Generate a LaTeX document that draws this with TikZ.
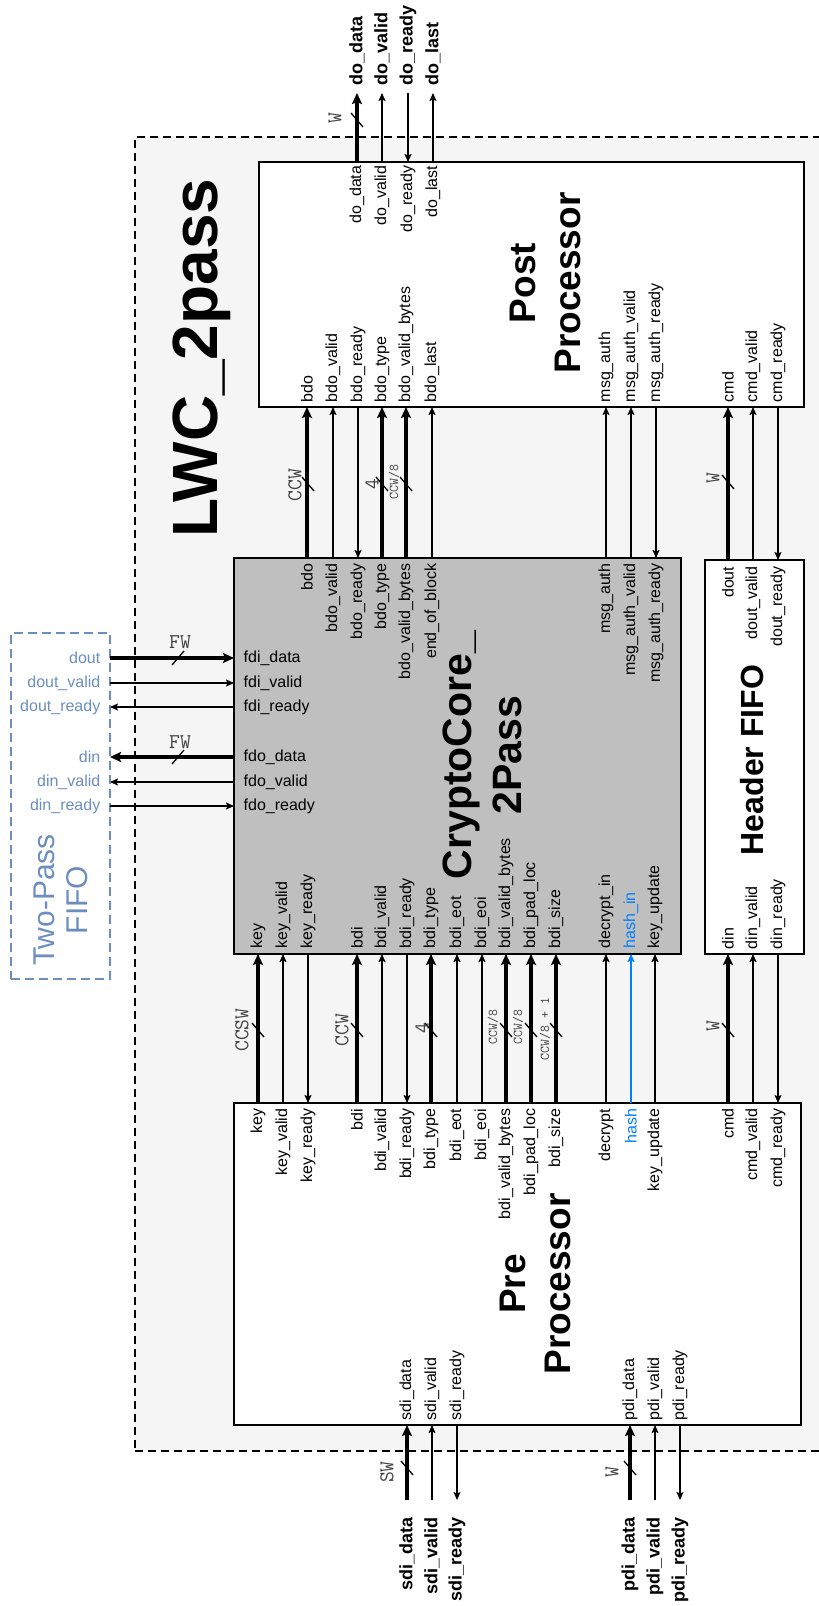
\documentclass[tikz,border=0pt]{standalone}
\usepackage{fontspec}
\setmainfont{Liberation Sans}
\usetikzlibrary{positioning,arrows.meta}
\definecolor{fifoblue}{RGB}{108,142,191}
\definecolor{hashblue}{RGB}{0,127,255}
\definecolor{coregray}{RGB}{191,191,191}
\definecolor{lwcgray}{RGB}{245,245,245}

\begin{document}
\begin{tikzpicture}[x=1pt,y=-1pt]
  \tikzstyle{box}=[draw,line width=2pt,anchor=north west,inner sep=0pt,outer sep=0pt]
  \tikzstyle{title}=[font=\bfseries\fontsize{37}{45}\selectfont,rotate=90,align=center]
  \tikzstyle{port}=[font=\fontsize{16}{19}\selectfont,inner sep=1.5pt]
  \tikzstyle{ptop}=[port,rotate=90,anchor=east]
  \tikzstyle{pbot}=[port,rotate=90,anchor=west]
  \tikzstyle{ext}=[font=\bfseries\fontsize{18}{21}\selectfont,rotate=90,inner sep=0pt]
  \tikzstyle{wtext}=[font=\ttfamily\fontsize{21}{23}\selectfont,text=black!75,inner sep=0pt]
  \tikzstyle{wlab}=[wtext,rotate=90]
  \tikzstyle{wsmall}=[wlab,font=\ttfamily\fontsize{13.5}{15}\selectfont]
  \tikzstyle{wire}=[line width=1.3pt,-{Stealth[length=8pt,width=7pt,inset=1.5pt]}]
  \tikzstyle{rev}=[line width=1.3pt,{Stealth[length=8pt,width=7pt,inset=1.5pt]}-]
  \tikzstyle{bus}=[line width=4pt,-{Stealth[length=11pt,width=10pt,inset=2pt]}]
  \tikzstyle{busrev}=[line width=4pt,{Stealth[length=11pt,width=10pt,inset=2pt]}-]
  \tikzstyle{slash}=[line width=1.3pt]
  \useasboundingbox (0,0) rectangle (819,1606);

  % blocks
  \node[box,dash pattern=on 8pt off 5pt,fill=lwcgray,minimum width=700pt,minimum height=1314pt] (lwc) at (135,137) {};
  \node[box,fill=white,minimum width=545pt,minimum height=245pt] (post) at (259,162) {};
  \node[box,fill=coregray,minimum width=447pt,minimum height=396pt] (core) at (234,558) {};
  \node[box,fill=white,minimum width=99pt,minimum height=394pt] (hfifo) at (705,560) {};
  \node[box,fill=white,minimum width=567pt,minimum height=322pt] (pre) at (234,1103) {};
  \node[box,draw=fifoblue,dash pattern=on 9pt off 5pt,minimum width=99pt,minimum height=346pt] (tpf) at (11,633) {};

  \node[title,font=\bfseries\fontsize{64}{70}\selectfont,anchor=base west,inner sep=0pt] (lwct) at (217,538) {LWC\_2pass};
  \node[title] (postt) at (545,283) {Post\\Processor};
  \node[title] (pret) at (535,1284) {Pre\\Processor};
  \node[title,font=\bfseries\fontsize{41}{50}\selectfont] (coret) at (482,755) {CryptoCore\_\\2Pass};
  \node[title,font=\bfseries\fontsize{32}{38}\selectfont] (hfifot) at (752,760) {Header FIFO};
  \node[title,font=\fontsize{30}{33}\selectfont,text=fifoblue] (tpft) at (61,900) {Two-Pass\\FIFO};

  % post processor outputs
  \foreach \x/\n/\s in {357/data/bus,382/valid/wire,408/ready/rev,433/last/wire}{
    \node[ptop] (pdo\n) at (\x,164) {do\_\n};
    \coordinate (edo\n) at (\x,93);
    \node[ext,anchor=west] (xdo\n) at (\x,86) {do\_\n};
    \draw[\s] (pdo\n |- post.north) -- (edo\n);
  }

  % cryptocore to post processor
  \foreach \x/\a/\b/\s in {307/bdo/bdo/bus, 333/bdo\_valid/bdo\_valid/wire, 358/bdo\_ready/bdo\_ready/rev,
      382/bdo\_type/bdo\_type/bus, 406/bdo\_valid\_bytes/bdo\_valid\_bytes/bus, 432/bdo\_last/end\_of\_block/wire,
      606/msg\_auth/msg\_auth/wire, 631/msg\_auth\_valid/msg\_auth\_valid/wire, 656/msg\_auth\_ready/msg\_auth\_ready/rev}{
    \node[pbot] (pp\x) at (\x,404) {\a};
    \node[ptop] (cp\x) at (\x,562) {\b};
    \draw[\s] (cp\x |- core.north) -- (pp\x |- post.south);
  }

  % pre processor to cryptocore
  \foreach \x/\a/\b/\s/\c in {258/key/key/bus/black, 283/key\_valid/key\_valid/wire/black, 308/key\_ready/key\_ready/rev/black,
      357/bdi/bdi/bus/black, 382/bdi\_valid/bdi\_valid/wire/black, 407/bdi\_ready/bdi\_ready/rev/black,
      431/bdi\_type/bdi\_type/bus/black, 457/bdi\_eot/bdi\_eot/wire/black, 482/bdi\_eoi/bdi\_eoi/wire/black,
      506/bdi\_valid\_bytes/bdi\_valid\_bytes/bus/black, 531/bdi\_pad\_loc/bdi\_pad\_loc/bus/black,
      556/bdi\_size/bdi\_size/bus/black, 606/decrypt/decrypt\_in/wire/black, 631/hash/hash\_in/wire/hashblue,
      655/key\_update/key\_update/wire/black}{
    \node[ptop,text=\c] (rp\x) at (\x,1107) {\a};
    \node[pbot,text=\c] (cq\x) at (\x,950) {\b};
    \draw[\s,draw=\c] (rp\x |- pre.north) -- (cq\x |- core.south);
  }

  % header fifo
  \foreach \x/\n/\s in {728//bus, 753/\_valid/wire, 778/\_ready/rev}{
    \node[pbot] (pc\x) at (\x,404) {cmd\n};
    \node[ptop] (hd\x) at (\x,565) {dout\n};
    \node[pbot] (hi\x) at (\x,951) {din\n};
    \node[ptop] (rc\x) at (\x,1107) {cmd\n};
    \draw[\s] (hd\x |- hfifo.north) -- (pc\x |- post.south);
    \draw[\s] (rc\x |- pre.north) -- (hi\x |- hfifo.south);
  }

  % pre processor inputs
  \foreach \x/\n/\s in {407/sdi\_data/bus, 432/sdi\_valid/wire, 457/sdi\_ready/rev,
      630/pdi\_data/bus, 655/pdi\_valid/wire, 680/pdi\_ready/rev}{
    \node[pbot] (rb\x) at (\x,1422) {\n};
    \coordinate (eb\x) at (\x,1500);
    \node[ext,anchor=east] (xb\x) at (\x,1517) {\n};
    \draw[\s] (eb\x) -- (rb\x |- pre.south);
  }

  % two-pass fifo
  \foreach \y/\a/\b/\s in {658/fdi\_data/dout/bus, 683/fdi\_valid/dout\_valid/wire, 707/fdi\_ready/dout\_ready/rev,
      757/fdo\_data/din/busrev, 782/fdo\_valid/din\_valid/rev, 806/fdo\_ready/din\_ready/wire}{
    \node[port,anchor=west] (cf\y) at (242,\y) {\a};
    \node[port,anchor=east,text=fifoblue] (ff\y) at (102,\y) {\b};
    \draw[\s] (tpf.east |- ff\y) -- (core.west |- cf\y);
  }

  % bus widths
  \foreach \x/\y in {357/120, 308/484, 382/484, 406/484, 728/482, 258/1030, 357/1030, 431/1030,
      506/1030, 531/1030, 556/1030, 728/1030, 407/1468, 630/1468}
    \draw[slash] (\x,\y) +(-6,-7) -- +(6,7);
  \foreach \y in {658,757}
    \draw[slash] (178,\y) +(-6,7) -- +(6,-7);
  \node[wlab] (w1) at (335,118) {W};
  \node[wlab] (w2) at (295,485) {CCW};
  \node[wlab] (w3) at (372,484) {4};
  \node[wsmall] (w4) at (394,482) {CCW/8};
  \node[wlab] (w5) at (713,478) {W};
  \node[wlab] (w6) at (242,1030) {CCSW};
  \node[wlab] (w7) at (342,1030) {CCW};
  \node[wlab] (w8) at (422,1028) {4};
  \node[wsmall] (w9) at (493,1027) {CCW/8};
  \node[wsmall] (w10) at (518,1027) {CCW/8};
  \node[wsmall] (w11) at (545,1029) {CCW/8 + 1};
  \node[wlab] (w12) at (713,1026) {W};
  \node[wlab] (w13) at (387,1472) {SW};
  \node[wlab] (w14) at (612,1472) {W};
  \node[wtext] (w15) at (180,642) {FW};
  \node[wtext] (w16) at (180,742) {FW};
\end{tikzpicture}
\end{document}
